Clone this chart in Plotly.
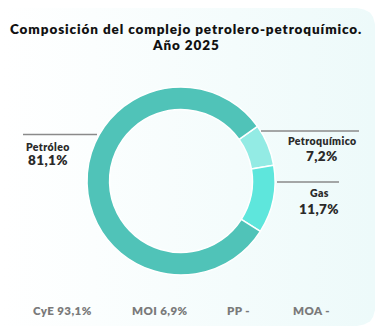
import plotly.graph_objects as go

# Composition shares (percent)
categories = ["Petroquímico", "Gas", "Petróleo"]
shares = [7.2, 11.7, 81.1]
slice_colors = ["#93ebe4", "#5ee6dc", "#50c3b8"]

# Bottom summary row
summary_labels = ["CyE 93,1%", "MOI 6,9%", "PP -", "MOA -"]

title_lines = ["Composición del complejo petrolero-petroquímico.", "Año 2025"]

W, H = 375, 336

fig = go.Figure()

# Card background with a soft horizontal gradient and rounded right corners
card_x = [0, 357, 364, 370, 373, 375, 375, 373, 370, 364, 357, 0, 0]
card_y = [8, 8, 9.5, 12.5, 17, 24, 310, 317, 321.5, 324.5, 326, 326, 8]
fig.add_trace(go.Scatter(
    x=card_x, y=card_y, mode="lines", fill="toself",
    line=dict(width=0),
    fillgradient=dict(type="horizontal",
                      colorscale=[[0, "#ffffff"], [0.25, "#fbfefe"], [1, "#edfafa"]]),
    hoverinfo="skip", showlegend=False,
))

# Donut
fig.add_trace(go.Pie(
    labels=categories, values=shares, sort=False, direction="clockwise",
    rotation=54.4, hole=0.76, textinfo="none", hoverinfo="label+percent",
    marker=dict(colors=slice_colors, line=dict(color="#ffffff", width=1.5)),
    domain=dict(x=[87 / W, 275 / W], y=[61 / H, 249 / H]),
    showlegend=False,
))

# Leader lines
for x0, x1, y in [(23, 97, 134.5), (261, 359, 131), (277, 339, 182)]:
    fig.add_shape(type="line", xref="x", yref="y", x0=x0, x1=x1, y0=y, y1=y,
                  line=dict(color="#8a8a8a", width=1.3))

font_family = "Lato"


def bold(text, spacing):
    return '<span style="letter-spacing:%spx;font-weight:800">%s</span>' % (spacing, text)


ann = []
for line, y in zip(title_lines, [29, 45]):
    ann.append(dict(x=186, y=y, text=bold(line, 0.9),
                    font=dict(size=13.5, color="#111111", family=font_family)))

# Slice labels: name on top, value below (x, name y, value y)
label_pos = {"Petróleo": (48, 147, 160), "Petroquímico": (322, 141, 156), "Gas": (319, 193, 209)}
for cat, val in zip(categories, shares):
    x, y1, y2 = label_pos[cat]
    ann.append(dict(x=x, y=y1, text=bold(cat, 0.4),
                    font=dict(size=10.5, color="#2a2a2a", family=font_family)))
    ann.append(dict(x=x, y=y2, text=bold(f"{val:.1f}".replace(".", ",") + "%", 0.4),
                    font=dict(size=13.5, color="#2a2a2a", family=font_family)))

for txt, x in zip(summary_labels, [62, 160, 238, 311]):
    ann.append(dict(x=x, y=310.5, text=bold(txt, 0.4),
                    font=dict(size=11.5, color="#7a7a7a", family=font_family)))

for a in ann:
    a.update(xref="x", yref="y", showarrow=False, xanchor="center", yanchor="middle")

fig.update_layout(
    width=W, height=H, margin=dict(l=0, r=0, t=0, b=0),
    paper_bgcolor="#ffffff", plot_bgcolor="rgba(0,0,0,0)",
    xaxis=dict(range=[0, W], visible=False, fixedrange=True, domain=[0, 1]),
    yaxis=dict(range=[H, 0], visible=False, fixedrange=True, domain=[0, 1]),
    annotations=ann, showlegend=False,
)

fig.write_html("out.html", config={"displayModeBar": False})
